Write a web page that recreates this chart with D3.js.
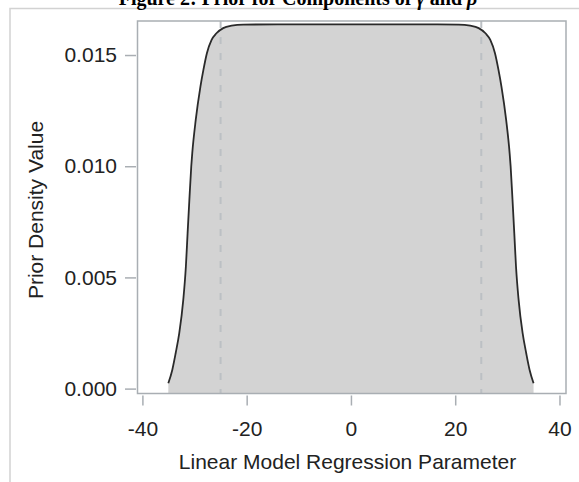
<!DOCTYPE html>
<html>
<head>
<meta charset="utf-8">
<script src="https://cdn.jsdelivr.net/npm/d3@7"></script>
<style>
  html, body { margin: 0; padding: 0; background: #fff; }
  svg { display: block; }
  .tick text { font-family: "Liberation Sans", Arial, sans-serif; }
</style>
</head>
<body>
<svg id="chart" width="579" height="482"></svg>
<script>
// Prior density over the linear model regression parameter (symmetric, flat top)
const paramValues = [
  -35.03, -34.27, -33.62, -32.93, -32.16, -31.66, -31.33, -30.99, -30.63, -30.44,
  -29.77, -28.87, -28.30, -27.63, -26.73, -25.80, -24.50, -22.89, -20.66,
  -10, 0, 10,
  20.66, 22.89, 24.50, 25.80, 26.73, 27.63, 28.30, 28.87, 29.77,
  30.44, 30.63, 30.99, 31.33, 31.66, 32.16, 32.93, 33.62, 34.27, 35.03
];
const densityValues = [
  0.00024, 0.00084, 0.00159, 0.00249, 0.00399, 0.00549, 0.00699, 0.00849, 0.00999, 0.01058,
  0.01208, 0.01358, 0.01433, 0.01508, 0.01568, 0.01598, 0.01621, 0.01632, 0.01637,
  0.01638, 0.01638, 0.01638,
  0.01637, 0.01632, 0.01621, 0.01598, 0.01568, 0.01508, 0.01433, 0.01358, 0.01208,
  0.01058, 0.00999, 0.00849, 0.00699, 0.00549, 0.00399, 0.00249, 0.00159, 0.00084, 0.00024
];
// Reference lines
const refLines = [-25, 25];
// Axis ticks
const xTicks = [-40, -20, 0, 20, 40];
const yTicks = [0, 0.005, 0.010, 0.015];

const titleText = "Figure 2: Prior for Components of ";
const xLabel = "Linear Model Regression Parameter";
const yLabel = "Prior Density Value";

const svg = d3.select("#chart");
const sans = "'Liberation Sans', Arial, sans-serif";
const frameColor = "#a9aeb3";

const plot = { left: 137.5, right: 566, top: 21, bottom: 393.5 };

const x = d3.scaleLinear().domain([-40.94, 41.25]).range([plot.left, plot.right]);
const y = d3.scaleLinear().domain([-0.00022, 0.01653]).range([plot.bottom, plot.top]);

const data = paramValues.map((v, i) => ({ p: v, d: densityValues[i] }));

// Outer graph border
svg.append("rect")
  .attr("x", 10).attr("y", 8.5).attr("width", 620).attr("height", 520)
  .attr("fill", "none").attr("stroke", "#d2d2d2").attr("stroke-width", 1.5);

// Title
const title = svg.append("text")
  .attr("x", 298).attr("y", 5)
  .attr("text-anchor", "middle")
  .attr("font-family", "'Liberation Serif', 'Times New Roman', serif")
  .attr("font-weight", "bold")
  .attr("font-size", 20)
  .attr("fill", "#000");
title.append("tspan").text(titleText);
title.append("tspan").attr("font-style", "italic").text("γ");
title.append("tspan").text(" and ");
title.append("tspan").attr("font-style", "italic").text("β");

// Filled density area
const area = d3.area()
  .x(d => x(d.p))
  .y0(y(y.domain()[0]))
  .y1(d => y(d.d))
  .curve(d3.curveMonotoneX);

svg.append("path")
  .datum(data)
  .attr("d", area)
  .attr("fill", "#d3d3d3");

// Dashed reference lines
svg.selectAll("line.ref")
  .data(refLines)
  .enter().append("line")
  .attr("class", "ref")
  .attr("x1", d => x(d)).attr("x2", d => x(d))
  .attr("y1", plot.top).attr("y2", plot.bottom)
  .attr("stroke", "#bcc0c4")
  .attr("stroke-width", 2)
  .attr("stroke-dasharray", "7,9");

// Density curve
const line = d3.line()
  .x(d => x(d.p))
  .y(d => y(d.d))
  .curve(d3.curveMonotoneX);

svg.append("path")
  .datum(data)
  .attr("d", line)
  .attr("fill", "none")
  .attr("stroke", "#2a2a2a")
  .attr("stroke-width", 1.8);

// Plot frame
svg.append("rect")
  .attr("x", plot.left).attr("y", plot.top)
  .attr("width", plot.right - plot.left).attr("height", plot.bottom - plot.top)
  .attr("fill", "none").attr("stroke", frameColor).attr("stroke-width", 1.5);

// Integer labels with a plain hyphen for negatives
const intFormat = d => String(Math.round(d));

// X axis
const xAxis = svg.append("g")
  .attr("transform", `translate(0,${plot.bottom + 2})`)
  .call(d3.axisBottom(x).tickValues(xTicks).tickFormat(intFormat)
        .tickSize(10).tickSizeOuter(0).tickPadding(16));
xAxis.select(".domain").remove();
xAxis.selectAll(".tick line").attr("stroke", frameColor).attr("stroke-width", 1.5);
xAxis.selectAll(".tick text")
  .attr("font-family", sans).attr("font-size", 21).attr("fill", "#222");

// Y axis
const yAxis = svg.append("g")
  .attr("transform", `translate(${plot.left - 1.5},0)`)
  .call(d3.axisLeft(y).tickValues(yTicks).tickFormat(d => d.toFixed(3))
        .tickSize(11).tickSizeOuter(0).tickPadding(8));
yAxis.select(".domain").remove();
yAxis.selectAll(".tick line").attr("stroke", frameColor).attr("stroke-width", 1.5);
yAxis.selectAll(".tick text")
  .attr("font-family", sans).attr("font-size", 21).attr("fill", "#222");

// Axis labels
svg.append("text")
  .attr("x", 347.5).attr("y", 469)
  .attr("text-anchor", "middle")
  .attr("font-family", sans).attr("font-size", 21).attr("fill", "#222")
  .text(xLabel);

svg.append("text")
  .attr("transform", "translate(43,210) rotate(-90)")
  .attr("text-anchor", "middle")
  .attr("font-family", sans).attr("font-size", 21).attr("fill", "#222")
  .text(yLabel);
</script>
</body>
</html>
